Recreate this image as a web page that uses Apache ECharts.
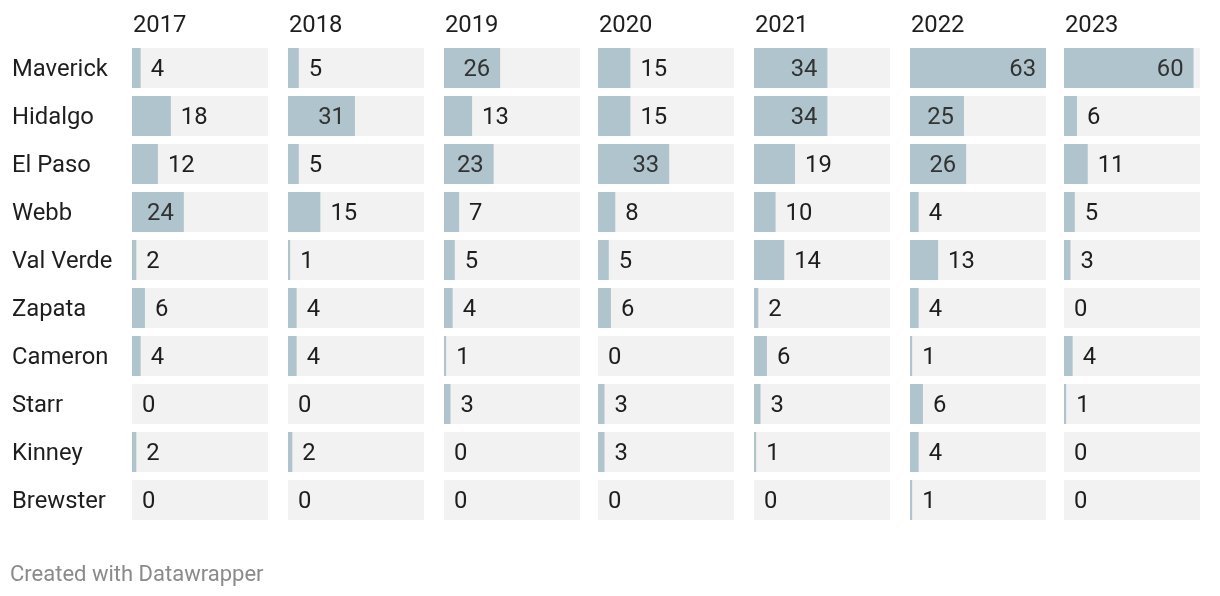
<!DOCTYPE html>
<html>
<head>
<meta charset="utf-8">
<script src="https://cdn.jsdelivr.net/npm/echarts@6/dist/echarts.min.js"></script>
<style>
html,body{margin:0;padding:0;background:#fff;}
#chart{width:1220px;height:596px;}
</style>
</head>
<body>
<div id="chart"></div>
<script>
const counties = ["Maverick","Hidalgo","El Paso","Webb","Val Verde","Zapata","Cameron","Starr","Kinney","Brewster"];
const years = ["2017","2018","2019","2020","2021","2022","2023"];
const v2017 = [4,18,12,24,2,6,4,0,2,0];
const v2018 = [5,31,5,15,1,4,4,0,2,0];
const v2019 = [26,13,23,7,5,4,1,3,0,0];
const v2020 = [15,15,33,8,5,6,0,3,3,0];
const v2021 = [34,34,19,10,14,2,6,3,1,0];
const v2022 = [63,25,26,4,13,4,1,6,4,1];
const v2023 = [60,6,11,5,3,0,4,1,0,0];
const values = [v2017,v2018,v2019,v2020,v2021,v2022,v2023];
const footer = "Created with Datawrapper";

const FONT = "Roboto";
const FS = 23.8;
const colLeft = [132,288,444,598,754,910,1064];
const colWidth = 136;
const maxVal = 63;

const grids = [], xAxes = [], yAxes = [], series = [], titles = [];
years.forEach((yr, i) => {
  grids.push({left: colLeft[i], top: 44, width: colWidth, height: 480});
  xAxes.push({type:'value', gridIndex:i, min:0, max:maxVal, show:false});
  yAxes.push({
    type:'category', gridIndex:i, data:counties, inverse:true,
    axisLine:{show:false}, axisTick:{show:false},
    axisLabel: i===0 ? {
      show:true, align:'left', margin:120,
      formatter: '{a|{value}}',
      rich: {a: {fontSize:FS, color:'#1e1e1e', fontFamily:FONT, padding:[4,0,0,0]}}
    } : {show:false}
  });
  series.push({
    type:'bar', xAxisIndex:i, yAxisIndex:i, barWidth:40,
    showBackground:true, backgroundStyle:{color:'#f2f2f2'},
    itemStyle:{color:'#afc4cc'},
    silent:true,
    label:{show:true, position:'right', distance:10, offset:[0,2], fontSize:FS, color:'#1e1e1e', fontFamily:FONT},
    data: values[i].map(v => v >= 20
      ? {value:v, label:{position:'insideRight', distance:10, color:'#333'}}
      : {value:v})
  });
  titles.push({text:yr, left:colLeft[i]-4, top:9, padding:[5,5,5,5], textStyle:{fontSize:FS, fontWeight:'normal', color:'#1e1e1e', fontFamily:FONT}});
});
titles.push({text:footer, left:5, top:559, textStyle:{fontSize:22, fontWeight:'normal', color:'#8a8a8a', fontFamily:FONT}});

const chart = echarts.init(document.getElementById('chart'), null, {renderer:'canvas'});
chart.setOption({
  animation:false,
  backgroundColor:'#fff',
  title:titles,
  grid:grids, xAxis:xAxes, yAxis:yAxes, series:series
});
</script>
</body>
</html>
